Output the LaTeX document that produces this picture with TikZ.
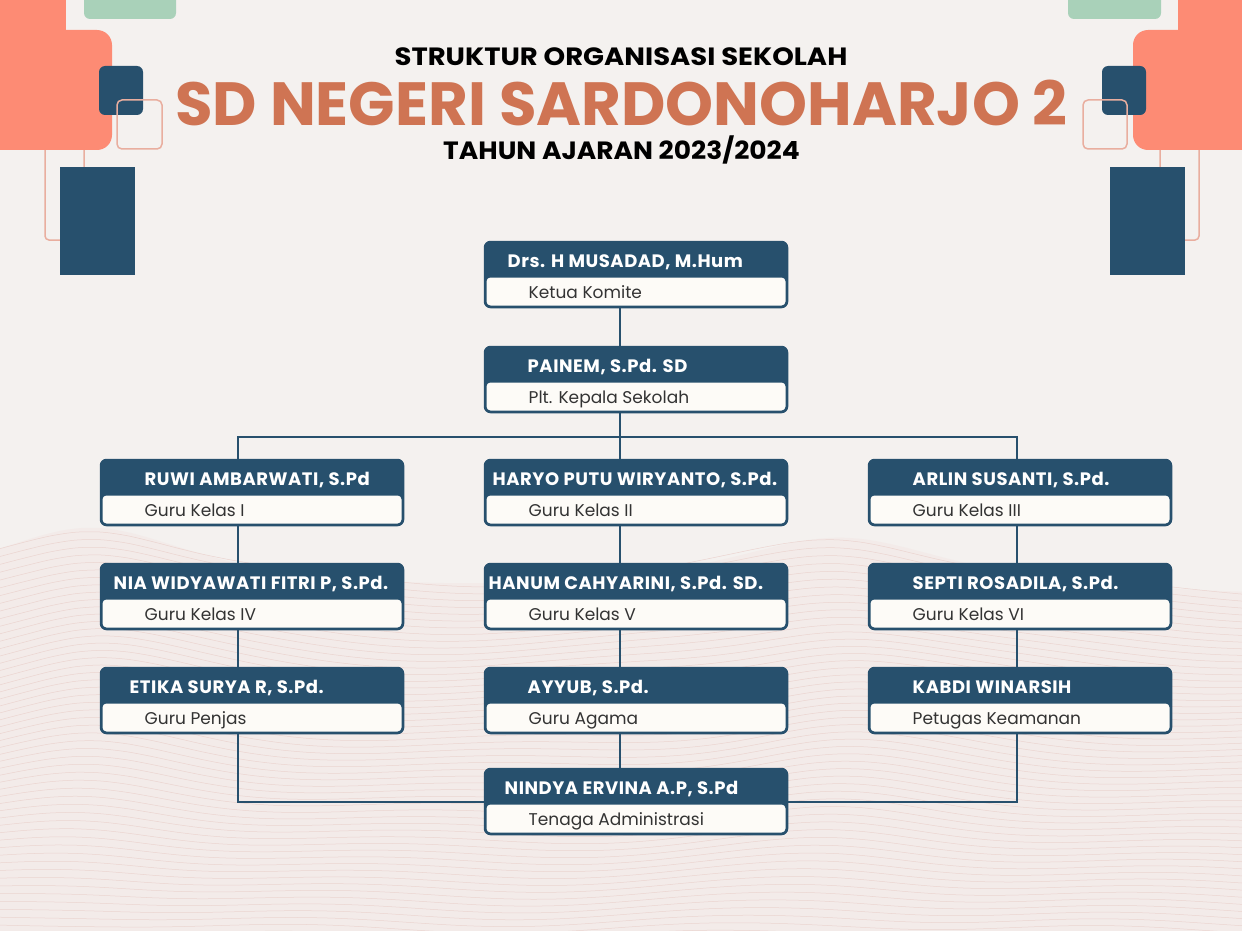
\documentclass[tikz,border=0pt]{standalone}
\usepackage{fontspec}
\setmainfont{Poppins}
\newfontfamily\headfont{Poppins}[LetterSpace=3]
\usepackage{tikz}
\usetikzlibrary{positioning}
\definecolor{navy}{HTML}{27506D}
\definecolor{salmon}{HTML}{FD8B74}
\definecolor{mint}{HTML}{A9D1B9}
\definecolor{rosy}{HTML}{E9AE9F}
\definecolor{titleorange}{HTML}{CF7453}
\definecolor{paper}{HTML}{F4F1EF}
\definecolor{boxwhite}{HTML}{FDFBF7}
\definecolor{rolegrey}{HTML}{333333}
\definecolor{waveline}{HTML}{EBD4D0}
\definecolor{wavefill}{HTML}{F3EBE9}
\tikzstyle{card} = [rectangle, minimum width=303pt, minimum height=66pt, inner sep=0pt, outer sep=0pt, rounded corners=6pt, fill=navy, draw=navy, line width=1.5pt, path picture={\fill[boxwhite, rounded corners=4pt] ([shift={(2pt,2pt)}]path picture bounding box.south west) rectangle ([shift={(-2pt,-36pt)}]path picture bounding box.north east);}]
\tikzstyle{headtext} = [anchor=base west, inner sep=0pt, text=white, font=\headfont\bfseries\fontsize{18}{20}\selectfont]
\tikzstyle{roletext} = [anchor=base west, inner sep=0pt, text=rolegrey, font=\fontsize{17}{19}\selectfont]
\tikzstyle{titletext} = [anchor=base, inner sep=0pt, text depth=0pt, font=\bfseries\fontsize{25}{28}\selectfont]
\tikzstyle{link} = [draw=navy, line width=2pt]
\tikzstyle{deco} = [draw=rosy, line width=1.5pt, rounded corners=5pt]
\newcommand{\person}[5]{%
  \node[card, #2] (#1) {};
  \node[headtext] (#1-name) at ([xshift=#3, yshift=-26pt]#1.north west) {#4};
  \node[roletext] (#1-role) at ([xshift=44pt, yshift=9pt]#1.south west) {#5};
}
\begin{document}
\begin{tikzpicture}[x=1pt, y=-1pt]
  \useasboundingbox (0,0) rectangle (1242,931);
  \fill[paper] (0,0) rectangle (1242,931);
  % wavy background
  \fill[wavefill] plot[smooth, domain=0:1242, samples=60] (\x, {600 - 70/(1+((\x-90)/140)^2) - 60/(1+((\x-840)/150)^2)}) -- (1242,931) -- (0,931) -- cycle;
  \foreach \i in {0,...,52} {
    \draw[waveline, line width=0.5pt] plot[smooth, domain=0:1242, samples=50] (\x, {600 + 6.5*\i - (1-\i/58)*(70/(1+((\x-90)/140)^2) + 60/(1+((\x-840)/150)^2)) + 4*sin(\x*0.9+\i*7)});
  }
  % corner shapes, left
  \draw[deco, rounded corners=4pt] (45,140) rectangle (84,240);
  \fill[salmon] (-10,-10) rectangle (66,40);
  \fill[salmon, rounded corners=15pt] (-20,30) rectangle (112,150);
  \fill[mint, rounded corners=6pt] (84,-10) rectangle (176,19);
  \fill[navy] (60,167) rectangle (135,275);
  \fill[navy, rounded corners=6pt] (99,66) rectangle (143,115);
  \draw[deco] (117,100) rectangle (162,149);
  % corner shapes, right
  \draw[deco, rounded corners=4pt] (1160,140) rectangle (1199,240);
  \fill[salmon] (1178,-10) rectangle (1252,40);
  \fill[salmon, rounded corners=15pt] (1133,30) rectangle (1262,150);
  \fill[mint, rounded corners=6pt] (1068,-10) rectangle (1161,19);
  \fill[navy] (1110,167) rectangle (1185,275);
  \fill[navy, rounded corners=6pt] (1102,66) rectangle (1146,115);
  \draw[deco] (1083,100) rectangle (1127,149);
  % title
  \node[titletext, text height=18pt] (heading) at (621,66) {\scalebox{1.1}[1]{STRUKTUR ORGANISASI SEKOLAH}};
  \node[titletext, text height=44pt, text=titleorange, font=\bfseries\fontsize{61}{70}\selectfont] (school) at (621.5,126) {SD NEGERI SARDONOHARJO 2};
  \node[titletext, text height=18pt] (year) at (621.5,159) {\scalebox{1.06}[1]{TAHUN AJARAN 2023/2024}};
  % boxes
  \person{komite}{at={(636,274.5)}}{23pt}{Drs. H MUSADAD, M.Hum}{Ketua Komite}
  \person{kepala}{below=39pt of komite}{43pt}{PAINEM, S.Pd. SD}{Plt. Kepala Sekolah}
  \person{haryo}{below=47pt of kepala}{8pt}{HARYO PUTU WIRYANTO, S.Pd.}{Guru Kelas II}
  \person{ruwi}{left=81pt of haryo}{44pt}{RUWI AMBARWATI, S.Pd}{Guru Kelas I}
  \person{arlin}{right=81pt of haryo}{44pt}{ARLIN SUSANTI, S.Pd.}{Guru Kelas III}
  \person{nia}{below=38pt of ruwi}{13pt}{NIA WIDYAWATI FITRI P, S.Pd.}{Guru Kelas IV}
  \person{hanum}{below=38pt of haryo}{4pt}{HANUM CAHYARINI, S.Pd. SD.}{Guru Kelas V}
  \person{septi}{below=38pt of arlin}{44pt}{SEPTI ROSADILA, S.Pd.}{Guru Kelas VI}
  \person{etika}{below=38pt of nia}{29pt}{ETIKA SURYA R, S.Pd.}{Guru Penjas}
  \person{ayyub}{below=38pt of hanum}{43pt}{AYYUB, S.Pd.}{Guru Agama}
  \person{kabdi}{below=38pt of septi}{44pt}{KABDI WINARSIH}{Petugas Keamanan}
  \person{nindya}{below=35pt of ayyub}{20pt}{NINDYA ERVINA A.P, S.Pd}{Tenaga Administrasi}
  % connectors
  \draw[link] ([xshift=-16pt]komite.south) -- ([xshift=-16pt]kepala.north);
  \draw[link] ([xshift=-16pt]kepala.south) -- ([xshift=-16pt]haryo.north);
  \draw[link] ([xshift=-14pt]ruwi.north) |- ([yshift=23pt]haryo.north) -| ([xshift=-3.5pt]arlin.north);
  \draw[link] ([xshift=-14pt]ruwi.south) -- ([xshift=-14pt]nia.north);
  \draw[link] ([xshift=-14pt]nia.south) -- ([xshift=-14pt]etika.north);
  \draw[link] ([xshift=-16pt]haryo.south) -- ([xshift=-16pt]hanum.north);
  \draw[link] ([xshift=-16pt]hanum.south) -- ([xshift=-16pt]ayyub.north);
  \draw[link] ([xshift=-16pt]ayyub.south) -- ([xshift=-16pt]nindya.north);
  \draw[link] ([xshift=-3.5pt]arlin.south) -- ([xshift=-3.5pt]septi.north);
  \draw[link] ([xshift=-3.5pt]septi.south) -- ([xshift=-3.5pt]kabdi.north);
  \draw[link] ([xshift=-14pt]etika.south) |- (nindya.west);
  \draw[link] ([xshift=-3.5pt]kabdi.south) |- (nindya.east);
\end{tikzpicture}
\end{document}
